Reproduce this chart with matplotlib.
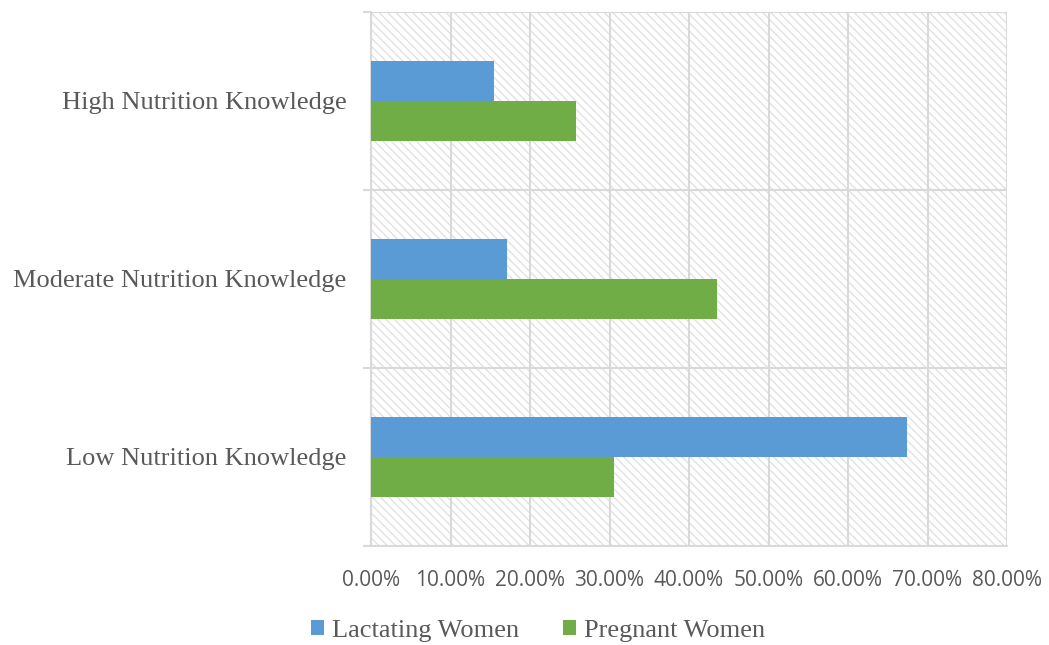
import matplotlib
matplotlib.use("Agg")
import matplotlib.pyplot as plt
from matplotlib.patches import Rectangle
from matplotlib.ticker import FixedLocator, FuncFormatter
import numpy as np

categories = ["Low Nutrition Knowledge", "Moderate Nutrition Knowledge", "High Nutrition Knowledge"]
lactating = [67.4, 17.1, 15.5]
pregnant = [30.6, 43.5, 25.8]
x_ticks = [0, 10, 20, 30, 40, 50, 60, 70, 80]
series_names = ["Lactating Women", "Pregnant Women"]

BLUE = "#5B9BD5"
GREEN = "#70AD47"
GRID = "#D9D9D9"
TEXT = "#595959"

plt.rcParams["hatch.linewidth"] = 1.0

fig = plt.figure(figsize=(10.49, 6.45), dpi=100)
ax = fig.add_axes([371 / 1049, 1 - 546 / 645, (1007 - 371) / 1049, (546 - 12) / 645])

# hatched plot-area background
ax.add_patch(Rectangle((0, 0), 1, 1, transform=ax.transAxes, facecolor="white",
                       edgecolor="#E2E2E2", hatch="\\\\\\\\", linewidth=0, zorder=0))

y = np.arange(len(categories))
h = 0.222
ax.barh(y + h / 2, lactating, height=h, color=BLUE, label=series_names[0], zorder=3)
ax.barh(y - h / 2, pregnant, height=h, color=GREEN, label=series_names[1], zorder=3)

ax.set_xlim(0, 80)
ax.set_ylim(-0.5, len(categories) - 0.5)

ax.set_xticks(x_ticks)
ax.xaxis.set_major_formatter(FuncFormatter(lambda v, p: f"{v:.2f}%"))
ax.set_yticks(y)
ax.set_yticklabels(categories)
ax.yaxis.set_minor_locator(FixedLocator(np.arange(-0.5, len(categories), 1.0)))

ax.grid(axis="x", color=GRID, linewidth=1.5, zorder=1)
ax.grid(axis="y", which="minor", color=GRID, linewidth=1.5, zorder=1)
ax.set_axisbelow(True)

for side in ["top", "right"]:
    ax.spines[side].set_visible(False)
ax.spines["left"].set_color(GRID)
ax.spines["left"].set_linewidth(1.5)
ax.spines["bottom"].set_color(GRID)
ax.spines["bottom"].set_linewidth(1.5)

ax.tick_params(axis="x", length=0, pad=17.5, labelsize=15, labelcolor=TEXT)
ax.tick_params(axis="y", which="major", length=0, pad=17.5, labelcolor=TEXT)
ax.tick_params(axis="y", which="minor", length=6, width=1.5, color=GRID)
for lbl in ax.get_xticklabels():
    lbl.set_fontfamily("Open Sans")
for lbl in ax.get_yticklabels():
    lbl.set_fontfamily("Liberation Serif")
    lbl.set_fontsize(19)

leg = fig.legend(loc="center", bbox_to_anchor=(538 / 1049, 1 - 631 / 645), ncol=2,
                 frameon=False, prop={"family": "Liberation Serif", "size": 19},
                 handlelength=0.5, handleheight=0.5, handletextpad=0.3, columnspacing=1.66)
for t in leg.get_texts():
    t.set_color(TEXT)

fig.savefig("out.png", dpi=100, facecolor="white")
